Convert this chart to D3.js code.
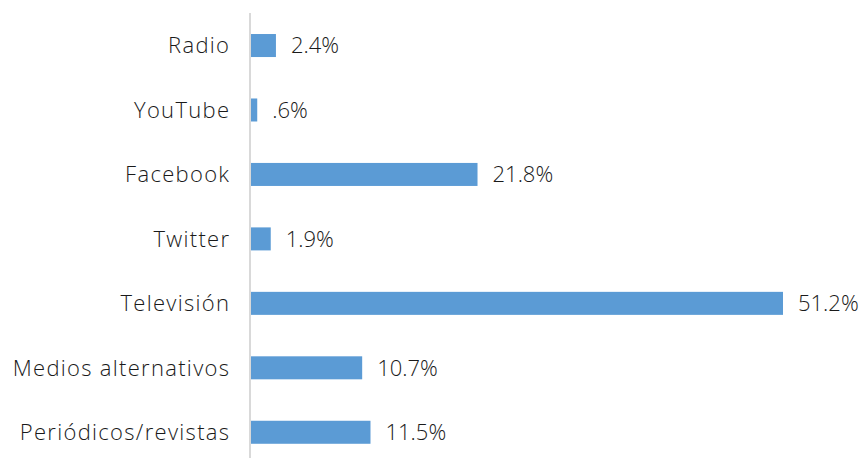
<!DOCTYPE html>
<html>
<head>
<meta charset="utf-8">
<script src="https://cdn.jsdelivr.net/npm/d3@7"></script>
<style>
html,body{margin:0;padding:0;background:#fff;}
svg text{font-family:"Open Sans",sans-serif;fill:#1a1a1a;font-weight:350;}
</style>
</head>
<body>
<svg id="chart" width="865" height="458"></svg>
<script>
const categories = ["Radio","YouTube","Facebook","Twitter","Televisión","Medios alternativos","Periódicos/revistas"];
const values = [2.4, 0.6, 21.8, 1.9, 51.2, 10.7, 11.5];
const valueLabels = ["2.4%", ".6%", "21.8%", "1.9%", "51.2%", "10.7%", "11.5%"];

const svg = d3.select("#chart");
const x0 = 251;
const x = d3.scaleLinear().domain([0, 51.2]).range([x0, 783]);
const y = d3.scaleBand().domain(categories).range([13.3, 464.5]).paddingInner(0.643).paddingOuter(0.3215);

svg.selectAll("rect.bar").data(categories).join("rect")
  .attr("class","bar")
  .attr("x", x(0))
  .attr("y", d => y(d))
  .attr("width", (d,i) => x(values[i]) - x(0))
  .attr("height", y.bandwidth())
  .attr("fill", "#5b9bd5");

svg.append("line")
  .attr("x1", 250).attr("x2", 250)
  .attr("y1", 13).attr("y2", 458)
  .attr("stroke", "#d9d9d9").attr("stroke-width", 2);

svg.selectAll("text.cat").data(categories).join("text")
  .attr("class","cat")
  .attr("x", 230.3)
  .attr("y", d => y(d) + y.bandwidth()/2)
  .attr("dy", "0.36em")
  .attr("text-anchor","end")
  .attr("font-size", 22)
  .attr("letter-spacing", "1.3px")
  .text(d => d);

svg.selectAll("text.val").data(categories).join("text")
  .attr("class","val")
  .attr("x", (d,i) => x(values[i]) + 15)
  .attr("y", d => y(d) + y.bandwidth()/2)
  .attr("dy", "0.36em")
  .attr("font-size", 22)
  .text((d,i) => valueLabels[i]);
</script>
</body>
</html>
